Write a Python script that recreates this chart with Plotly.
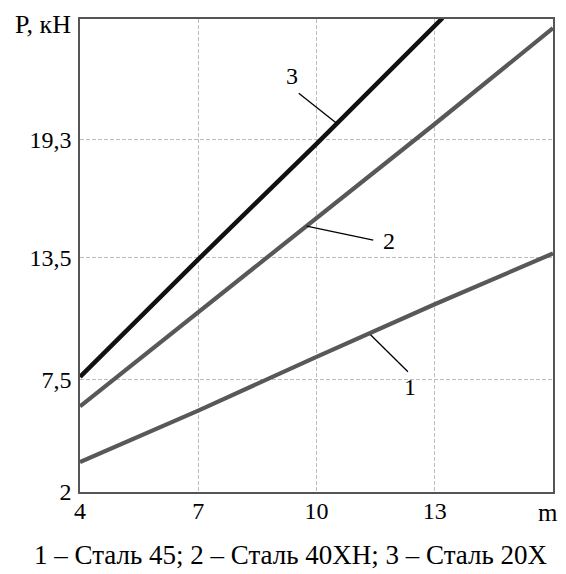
import plotly.graph_objects as go

# ---- data ----
x3 = [4, 7, 10, 13.2]
y3 = [7.65, 13.41, 19.08, 25.25]

x2 = [4, 5.5, 7, 10, 13, 16]
y2 = [6.2, 8.5, 10.8, 15.45, 20.05, 24.75]

x1 = [4, 7, 10, 13, 16]
y1 = [3.47, 5.99, 8.63, 11.21, 13.70]

x_ticks = [4, 7, 10, 13]
x_ticktext = ["4", "7", "10", "13"]
y_ticks = [2, 7.5, 13.5, 19.3]
y_ticktext = ["2", "7,5", "13,5", "19,3"]

# curve labels: (text, label_x, label_y, leader_x0, leader_y0, leader_x1, leader_y1)
curve_labels = [
    ("3", 9.37, 22.38, 9.55, 21.56, 10.51, 20.09),
    ("2", 11.83, 14.30, 9.75, 15.04, 11.44, 14.35),
    ("1", 12.37, 7.13, 11.37, 9.71, 12.32, 7.90),
]

caption = "1 – Сталь 45; 2 – Сталь 40ХН; 3 – Сталь 20Х"
FONT = "Liberation Serif"

fig = go.Figure()
fig.add_trace(go.Scatter(x=x1, y=y1, mode="lines",
                         line=dict(color="#585858", width=4.2), showlegend=False))
fig.add_trace(go.Scatter(x=x2, y=y2, mode="lines",
                         line=dict(color="#585858", width=4.2), showlegend=False))
fig.add_trace(go.Scatter(x=x3, y=y3, mode="lines",
                         line=dict(color="#111111", width=4.5), showlegend=False))

for t, lx, ly, ax0, ay0, ax1, ay1 in curve_labels:
    fig.add_shape(type="line", x0=ax0, y0=ay0, x1=ax1, y1=ay1,
                  line=dict(color="black", width=1.3), xref="x", yref="y")
    fig.add_annotation(x=lx, y=ly, text=t, showarrow=False,
                       font=dict(family=FONT, size=24, color="black"))

fig.add_annotation(xref="paper", yref="paper", x=0, y=1, xshift=-7, yshift=-5,
                   xanchor="right", yanchor="middle", text="P, кН", showarrow=False,
                   font=dict(family=FONT, size=26, color="black"))
fig.add_annotation(xref="paper", yref="paper", x=1, y=0, xshift=-5, yshift=-20,
                   xanchor="center", yanchor="middle", text="m", showarrow=False,
                   font=dict(family=FONT, size=25, color="black"))
fig.add_annotation(xref="paper", yref="paper", x=0.447, y=0, yshift=-63,
                   xanchor="center", yanchor="middle", text=caption, showarrow=False,
                   font=dict(family=FONT, size=27, color="black"))

axis_common = dict(showline=True, mirror=True, linecolor="#555555", linewidth=1.6,
                   showgrid=True, gridcolor="#bdbdbd", griddash="4px,2px", gridwidth=1,
                   zeroline=False, ticks="",
                   tickfont=dict(family=FONT, size=24, color="black"))

fig.update_xaxes(range=[4, 16], tickmode="array", tickvals=x_ticks,
                 ticktext=x_ticktext, ticklabelstandoff=-4, **axis_common)
fig.update_yaxes(range=[2, 25.2], tickmode="array", tickvals=y_ticks,
                 ticktext=y_ticktext, ticklabelstandoff=2, **axis_common)

# page body has an 8px margin, so the figure is shrunk by 8px to fit the window
fig.update_layout(width=558, height=566,
                  margin=dict(l=72, r=13, t=9, b=82),
                  plot_bgcolor="white", paper_bgcolor="white",
                  font=dict(family=FONT))

fig.write_html("out.html")
